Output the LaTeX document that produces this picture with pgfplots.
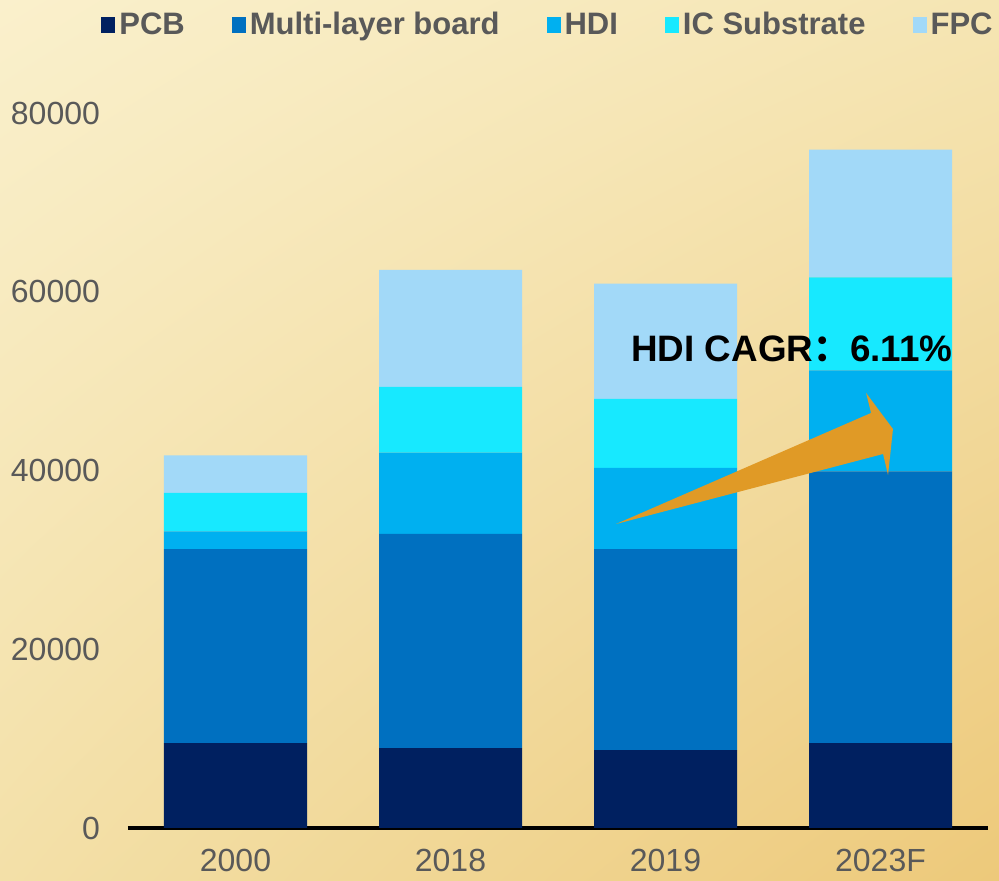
\documentclass[border=0pt]{standalone}
\usepackage{fontspec}
\setmainfont{Liberation Sans}
\newfontfamily\cjk{Noto Sans CJK SC}
\usepackage{pgfplots}
\usetikzlibrary{shadings}
\pgfplotsset{compat=1.18}
\definecolor{cPCB}{HTML}{002060}
\definecolor{cMulti}{HTML}{0070C0}
\definecolor{cHDI}{HTML}{00B0F0}
\definecolor{cIC}{HTML}{17E9FF}
\definecolor{cFPC}{HTML}{A2D9F8}
\definecolor{tgrey}{HTML}{595959}
\definecolor{arrowc}{HTML}{E09A26}
\definecolor{bgTL}{HTML}{FAF0CC}
\definecolor{bgTR}{HTML}{F5E5B3}
\definecolor{bgBL}{HTML}{F3E0A8}
\definecolor{bgBR}{HTML}{EDC97A}
\begin{document}
\begin{tikzpicture}
\shade[upper left=bgTL, upper right=bgTR, lower left=bgBL, lower right=bgBR]
  (-64pt,-26.5pt) rectangle (435.5pt,414pt);
\begin{axis}[
  scale only axis,
  width=430pt, height=357.5pt,
  xmin=-0.5, xmax=3.5, ymin=0, ymax=80000,
  ybar stacked, bar width=71.5pt,
  xtick={0,1,2,3}, xticklabels={2000,2018,2019,2023F},
  ytick={0,20000,40000,60000,80000},
  scaled y ticks=false,
  /pgf/number format/fixed,
  /pgf/number format/1000 sep={},
  /pgf/number format/assume math mode=true,
  tick label style={font=\fontsize{16}{18}\selectfont, text=tgrey},
  major tick length=0pt,
  xticklabel style={yshift=-7pt},
  yticklabel style={xshift=-10.5pt},
  axis x line*=bottom, axis y line*=left,
  x axis line style={line width=2pt, black, -},
  y axis line style={draw=none},
  legend columns=5,
  legend style={draw=none, fill=none, at={(0.4895,1.123)}, anchor=center,
    font=\bfseries\fontsize{15.5}{18}\selectfont, text=tgrey,
    /tikz/every even column/.append style={column sep=21.5pt},
    inner sep=0pt},
  legend image code/.code={\fill[#1] (0pt,-3.8pt) rectangle (7pt,3.8pt);},
  clip=false,
]
\addplot[fill=cPCB, draw=none] coordinates {(0,9500) (1,8950) (2,8700) (3,9500)};
\addplot[fill=cMulti, draw=none] coordinates {(0,21700) (1,23950) (2,22500) (3,30400)};
\addplot[fill=cHDI, draw=none] coordinates {(0,2000) (1,9100) (2,9100) (3,11300)};
\addplot[fill=cIC, draw=none] coordinates {(0,4300) (1,7350) (2,7700) (3,10400)};
\addplot[fill=cFPC, draw=none] coordinates {(0,4200) (1,13100) (2,12900) (3,14300)};
\legend{PCB, Multi-layer board, HDI, IC Substrate, FPC}
\coordinate (a1) at (axis cs:1.770,34014);
\coordinate (a2) at (axis cs:2.956,46434);
\coordinate (a3) at (axis cs:2.933,48671);
\coordinate (a4) at (axis cs:3.058,44643);
\coordinate (a5) at (axis cs:3.035,39497);
\coordinate (a6) at (axis cs:3.012,41846);
\coordinate (tx) at (axis cs:2.588,52141);
\end{axis}
\fill[arrowc] (a1) -- (a2) -- (a3) -- (a4) -- (a5) -- (a6) -- cycle;
\node[font=\bfseries\fontsize{18.4}{22}\selectfont, text=black, anchor=base, inner sep=0pt] at (tx) {HDI CAGR{\cjk ：}6.11\%};
\pgfresetboundingbox
\path (-64pt,-26.5pt) rectangle (435.5pt,414pt);
\end{tikzpicture}
\end{document}
